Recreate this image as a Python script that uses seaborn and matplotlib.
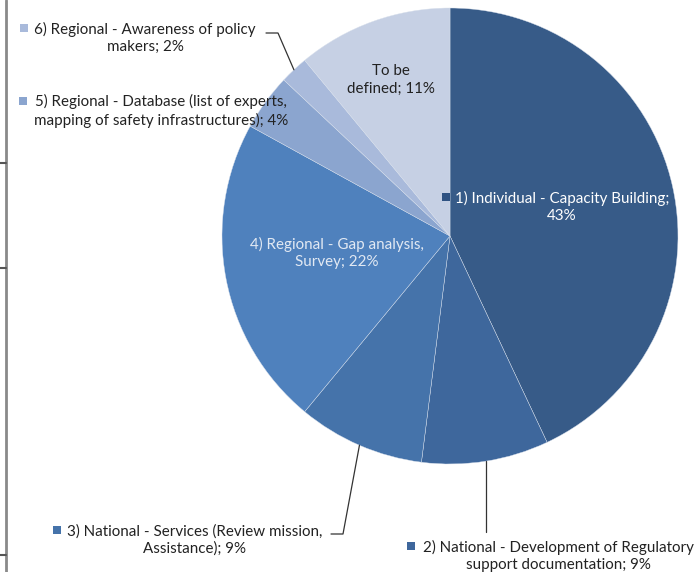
import matplotlib
matplotlib.use("Agg")
import matplotlib.pyplot as plt
import numpy as np
import seaborn as sns

# Shares of activities (percent), clockwise from 12 o'clock
categories = [
    "1) Individual - Capacity Building",
    "2) National - Development of Regulatory support documentation",
    "3) National - Services (Review mission, Assistance)",
    "4) Regional - Gap analysis, Survey",
    "5) Regional - Database (list of experts, mapping of safety infrastructures)",
    "6) Regional - Awareness of policy makers",
    "To be defined",
]
shares = [43, 9, 9, 22, 4, 2, 11]

# Label text as shown on the chart (wrapped the way the original wraps it)
label_texts = [
    "1) Individual - Capacity Building;\n43%",
    "2) National - Development of Regulatory\nsupport documentation; 9%",
    "3) National - Services (Review mission,\nAssistance); 9%",
    "4) Regional - Gap analysis,\nSurvey; 22%",
    "5) Regional - Database (list of experts,\nmapping of safety infrastructures); 4%",
    "6) Regional - Awareness of policy\nmakers; 2%",
    "To be\ndefined; 11%",
]

colors = ["#375b88", "#3e679c", "#4573aa", "#4f81bd", "#8ba5cf", "#a9badb", "#c6d0e4"]

sns.set_style("white")
plt.rcParams["font.family"] = ["Lato", "DejaVu Sans"]

W, H = 694, 572
fig = plt.figure(figsize=(W / 100, H / 100), dpi=100)
ax = fig.add_axes([0, 0, 1, 1])

# pie placed in pixel-like data units (y measured from bottom)
cx, cy, r = 450, H - 236, 228
wedges, _ = ax.pie(shares, colors=colors, startangle=90, counterclock=False,
                   center=(cx, cy), radius=r,
                   wedgeprops=dict(edgecolor="#d8e0ec", linewidth=0.3))
ax.set_xlim(0, W)
ax.set_ylim(0, H)
ax.set_aspect("equal")
ax.axis("off")

# label layout: (text x, text y from top, marker x or None, text colour)
layout = [
    (562, 207, 446, "white"),
    (558, 556, 411, "#222222"),
    (195, 540, 57, "#222222"),
    (337, 253, None, "#e2e9f3"),
    (161, 111, 23, "#222222"),
    (145, 38, 24, "#222222"),
    (391, 80, None, "#222222"),
]
for txt, (tx, ty, mx, tc), col in zip(label_texts, layout, colors):
    ax.text(tx, H - ty, txt, ha="center", va="center", fontsize=10.9,
            color=tc, linespacing=1.3)
    if mx is not None:
        my = H - ty + 10
        mcol = "#2f5282" if tc == "white" else col
        ax.scatter([mx], [my], marker="s", s=36, color=mcol, linewidths=0, zorder=5)

# leader lines from wedge edge to labels
def edge_point(w):
    mid = np.deg2rad((w.theta1 + w.theta2) / 2)
    return cx + r * np.cos(mid), cy + r * np.sin(mid)

ex, ey = edge_point(wedges[1])
ax.plot([ex, ex], [ey, H - 532], color="#333333", lw=0.9)
ex, ey = edge_point(wedges[2])
ax.plot([ex, 343, 331], [ey, H - 534, H - 534], color="#333333", lw=0.9)
ex, ey = edge_point(wedges[5])
ax.plot([ex, 278, 266], [ey, H - 33, H - 33], color="#333333", lw=0.9)

# remnant of the neighbouring chart's axis on the left edge
ax.plot([6, 6], [0, H], color="#8a8a8a", lw=2)
for ty in [163, 268, 555]:
    ax.plot([0, 6], [H - ty, H - ty], color="#555555", lw=1.5)

fig.savefig("out.png", dpi=100)
